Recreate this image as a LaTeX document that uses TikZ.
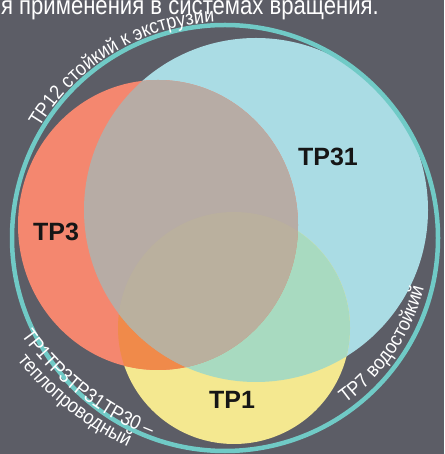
\documentclass[tikz,border=0pt]{standalone}
\usepackage{fontspec}
\setmainfont{Liberation Sans}
\newfontfamily\curvefont[FakeStretch=0.9]{Liberation Sans}
\newfontfamily\topfont[FakeStretch=0.85]{Liberation Sans}
\usetikzlibrary{decorations.text}
\definecolor{bg}{HTML}{5C5D66}
\definecolor{ringc}{HTML}{70CAC6}
\definecolor{bluec}{HTML}{AADCE4}
\definecolor{salmonc}{HTML}{F4876F}
\definecolor{brownc}{HTML}{B7ACA5}
\definecolor{brownlow}{HTML}{BAB09E}
\definecolor{greenc}{HTML}{A8DAC0}
\definecolor{orangec}{HTML}{F08A4A}
\definecolor{yellowc}{HTML}{F4E890}
\definecolor{labelc}{HTML}{161616}
\newcommand\curvesize{\curvefont\fontsize{20}{20}\selectfont}
\tikzset{
  setlabel/.style={font=\bfseries\fontsize{25}{25}\selectfont, text=labelc, inner sep=0pt},
  curvetext/.style={decorate, decoration={text along path, text={|\curvesize|#1}, text align=center, text color=white}}
}
\begin{document}
\begin{tikzpicture}[x=1pt,y=1pt]
\useasboundingbox (0,0) rectangle (444,454);
\fill[bg] (0,0) rectangle (444,454);
\coordinate (C) at (225,216);
% circles
\fill[bluec] (256,244) circle[radius=172];
\fill[yellowc] (234,126) circle[radius=116];
\fill[salmonc] (158,229) ellipse[x radius=140, y radius=145];
\begin{scope}
  \clip (256,244) circle[radius=172];
  \fill[greenc] (234,126) circle[radius=116];
\end{scope}
\begin{scope}
  \clip (158,229) ellipse[x radius=140, y radius=145];
  \fill[orangec] (234,126) circle[radius=116];
  \fill[brownc] (256,244) circle[radius=172];
  \clip (256,244) circle[radius=172];
  \fill[brownlow] (234,126) circle[radius=116];
\end{scope}
% outer ring
\draw[ringc, line width=4.5pt] (C) circle[radius=213];
% labels
\node[setlabel] (tp3) at (56,222) {TP3};
\node[setlabel] (tp31) at (328,297) {TP31};
\node[setlabel] (tp1) at (232,54) {TP1};
% top text
\node[anchor=base east, text=white, font=\topfont\fontsize{26}{26}\selectfont, inner sep=0pt] (top) at (379,439) {я применения в системах вращения.};
% curved texts
\path[curvetext={TP12 стойкий к экструзии}] (C) ++(176:216) arc[start angle=176, end angle=66, radius=216];
\path[curvetext={TP7 водостойкий}] (C) ++(-84:205) arc[start angle=-84, end angle=16, radius=205];
\coordinate (C2) at (254,283);
\path[curvetext={TP1TP3TP31TP30 –}] (C2) ++(200:285) arc[start angle=200, end angle=264, radius=285];
\path[curvetext={теплопроводный}] (C2) ++(200:303) arc[start angle=200, end angle=264, radius=303];
\end{tikzpicture}
\end{document}
